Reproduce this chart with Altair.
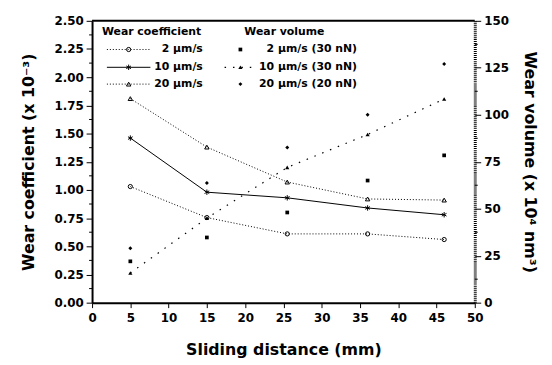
import altair as alt
import pandas as pd

# ---------------- data ----------------
distance = [5, 15, 25.5, 36, 46]

coef_names = ["2 μm/s", "10 μm/s", "20 μm/s"]
coef_2 = [1.03, 0.755, 0.61, 0.61, 0.56]
coef_10 = [1.46, 0.98, 0.93, 0.84, 0.78]
coef_20 = [1.81, 1.38, 1.07, 0.92, 0.91]

vol_names = ["2 μm/s (30 nN)", "10 μm/s (30 nN)", "20 μm/s (20 nN)"]
vol_2 = [22, 34.7, 48, 65, 78.4]
vol_10 = [15.8, 45, 72, 89.5, 108.4]
vol_20 = [29, 63.7, 82.6, 100, 127]

x_ticks = list(range(0, 51, 5))
coef_ticks = [i * 0.25 for i in range(11)]
coef_minor = [0.125 + i * 0.25 for i in range(10)]
vol_ticks = [i * 25 for i in range(7)]
vol_minor = [12.5 + i * 25 for i in range(6)]

legend_headers = ["Wear coefficient", "Wear volume"]

# ---------------- styling ----------------
W, H = 387, 285
FONT = "DejaVu Sans"
ASTER = "M0,-1L0,1M-0.87,-0.5L0.87,0.5M-0.87,0.5L0.87,-0.5"

coef_styles = [
    dict(dash=[1, 2], shape="circle", filled=False, size=18),
    dict(dash=None, shape=ASTER, filled=False, size=30),
    dict(dash=[1, 2], shape="triangle-up", filled=False, size=20),
]
vol_styles = [
    dict(dash=None, shape="square", filled=True, size=14),
    dict(dash=[1.5, 7], shape="triangle-up", filled=True, size=18),
    dict(dash=None, shape="diamond", filled=True, size=16),
]

common_axis = dict(
    domainColor="black", tickColor="black", labelColor="black", titleColor="black",
    labelFont=FONT, labelFontSize=12, labelFontWeight="bold",
    titleFont=FONT, titleFontSize=16, titleFontWeight="bold", grid=False,
)

x_axis = alt.Axis(
    values=x_ticks, format="d", title="Sliding distance (mm)",
    titleX=W / 2, titleY=47, titleBaseline="middle",
    domainWidth=2, tickSize=5, labelPadding=5, labelFlush=False,
    **common_axis,
)

left_axis = alt.Axis(
    values=coef_ticks, format=".2f", title="Wear coefficient (x 10⁻³)",
    tickSize=6, labelPadding=3, domainWidth=2, labelOverlap=False,
    titleX=-64, titleY=H / 2, titleBaseline="middle",
    **common_axis,
)

right_axis = alt.Axis(
    orient="right", values=vol_ticks, format="d", title="Wear volume (x 10⁴ nm³)",
    tickSize=6, labelPadding=3, domainWidth=3, domainDash=[1, 1], labelOverlap=False,
    titleX=55, titleY=H / 2, titleBaseline="middle", titleAngle=90,
    **common_axis,
)

x_scale = alt.Scale(domain=[0, 50], nice=False)
yl_scale = alt.Scale(domain=[0, 2.5], nice=False)
yr_scale = alt.Scale(domain=[0, 150], nice=False)

X = alt.X("distance:Q", scale=x_scale, axis=x_axis)
YL = alt.Y("value:Q", scale=yl_scale, axis=left_axis)
YR = alt.Y("value:Q", scale=yr_scale, axis=right_axis)


def frame(ys, name):
    return pd.DataFrame({"distance": distance, "value": ys, "series": name})


# ---------------- coefficient layers (left axis) ----------------
left_layers = []
for ys, name, st in zip([coef_2, coef_10, coef_20], coef_names, coef_styles):
    df = frame(ys, name)
    line_kw = dict(color="black", strokeWidth=1)
    if st["dash"]:
        line_kw["strokeDash"] = st["dash"]
    left_layers.append(alt.Chart(df).mark_line(**line_kw).encode(x=X, y=YL))
    left_layers.append(
        alt.Chart(df).mark_point(shape=st["shape"], filled=st["filled"], size=st["size"],
                                 color="black", strokeWidth=1, opacity=1).encode(x=X, y=YL)
    )

# minor ticks on the left axis
left_layers.append(
    alt.Chart(pd.DataFrame({"value": coef_minor})).mark_rule(color="black", strokeWidth=1).encode(
        x=alt.value(-3), x2=alt.value(0), y=YL,
    )
)

one = pd.DataFrame({"k": [0]})

# top border of the frame
left_layers.append(
    alt.Chart(one).mark_rule(color="black", strokeWidth=2).encode(
        x=alt.value(0), x2=alt.value(W), y=alt.value(0)
    )
)

# ---------------- legend (inside plot, top-left) ----------------
row_y = [29, 47, 64]
text_kw = dict(font=FONT, fontSize=11, fontWeight="bold", color="black", baseline="middle")
for hx, htxt in zip([10, 154], legend_headers):
    left_layers.append(
        alt.Chart(one).mark_text(align="left", **text_kw).encode(
            x=alt.value(hx), y=alt.value(11), text=alt.value(htxt)
        )
    )
for ry, name, st in zip(row_y, coef_names, coef_styles):
    rk = dict(color="black", strokeWidth=1)
    if st["dash"]:
        rk["strokeDash"] = st["dash"]
    left_layers.append(
        alt.Chart(one).mark_rule(**rk).encode(x=alt.value(15), x2=alt.value(59), y=alt.value(ry))
    )
    left_layers.append(
        alt.Chart(one).mark_point(shape=st["shape"], filled=st["filled"], size=st["size"],
                                  color="black", strokeWidth=1, opacity=1).encode(
            x=alt.value(37), y=alt.value(ry))
    )
    left_layers.append(
        alt.Chart(one).mark_text(align="right", **text_kw).encode(
            x=alt.value(112), y=alt.value(ry), text=alt.value(name))
    )
for ry, name, st in zip(row_y, vol_names, vol_styles):
    if st["dash"]:
        left_layers.append(
            alt.Chart(one).mark_rule(color="black", strokeWidth=1.2, strokeDash=st["dash"]).encode(
                x=alt.value(134), x2=alt.value(166), y=alt.value(ry))
        )
    left_layers.append(
        alt.Chart(one).mark_point(shape=st["shape"], filled=st["filled"], size=st["size"],
                                  color="black", strokeWidth=1, opacity=1).encode(
            x=alt.value(150), y=alt.value(ry))
    )
    left_layers.append(
        alt.Chart(one).mark_text(align="right", **text_kw).encode(
            x=alt.value(268), y=alt.value(ry), text=alt.value(name))
    )

left = alt.layer(*left_layers)

# ---------------- volume layers (right axis) ----------------
right_layers = []
for ys, name, st in zip([vol_2, vol_10, vol_20], vol_names, vol_styles):
    df = frame(ys, name)
    if st["dash"]:
        right_layers.append(
            alt.Chart(df).mark_line(color="black", strokeWidth=1.2, strokeDash=st["dash"]).encode(x=X, y=YR)
        )
    right_layers.append(
        alt.Chart(df).mark_point(shape=st["shape"], filled=st["filled"], size=st["size"],
                                 color="black", strokeWidth=1, opacity=1).encode(x=X, y=YR)
    )
# minor ticks on the right axis
right_layers.append(
    alt.Chart(pd.DataFrame({"value": vol_minor})).mark_rule(color="black", strokeWidth=1).encode(
        x=alt.value(W), x2=alt.value(W + 3), y=YR,
    )
)
right = alt.layer(*right_layers)

chart = (
    alt.layer(left, right)
    .resolve_scale(y="independent")
    .properties(
        width=W, height=H,
        padding={"left": 85, "top": 11, "right": 70, "bottom": 56},
        autosize=alt.AutoSizeParams(type="none"),
        background="white",
    )
    .configure_view(stroke=None)
)

chart.save("out.html", embed_options={"renderer": "svg", "actions": False})
